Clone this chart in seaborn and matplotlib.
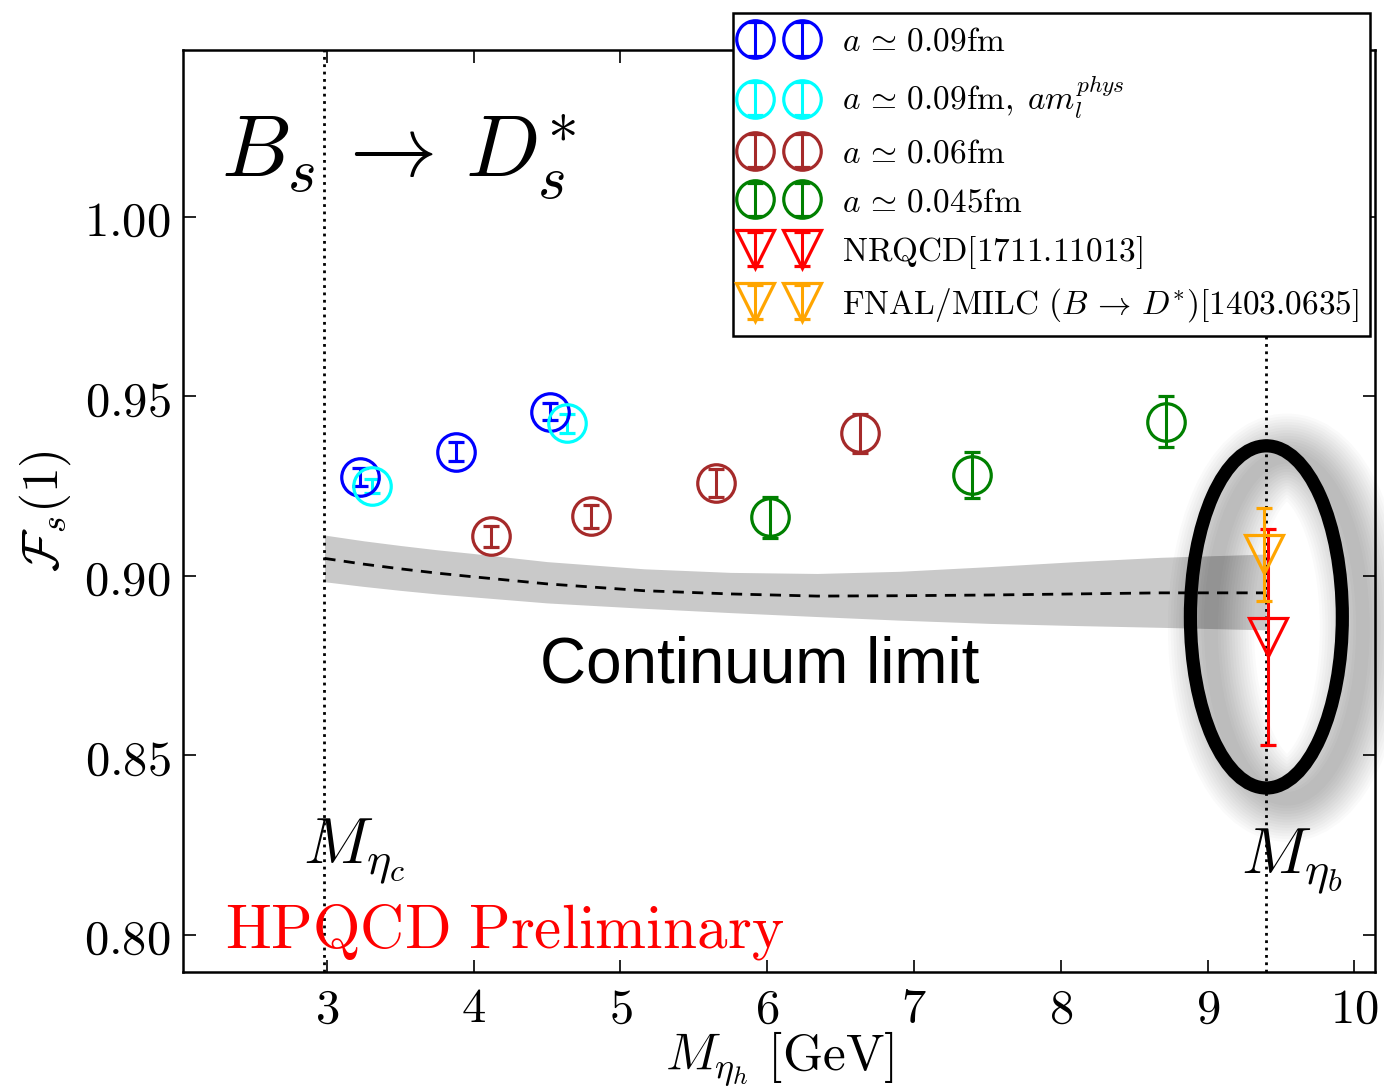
import numpy as np
import pandas as pd
import seaborn as sns
import matplotlib.pyplot as plt
from matplotlib.patches import Ellipse
from matplotlib.ticker import FormatStrFormatter, MultipleLocator

# lattice points: M_eta_h [GeV], F_s(1), error
blue_x = [3.225, 3.883, 4.518]
blue_y = [0.9275, 0.9346, 0.9458]
blue_err = [0.0025, 0.0027, 0.0024]

cyan_x = [3.309, 4.639]
cyan_y = [0.9251, 0.9425]
cyan_err = [0.0019, 0.0027]

brown_x = [4.117, 4.802, 5.654, 6.629]
brown_y = [0.9110, 0.9167, 0.9260, 0.9397]
brown_err = [0.0029, 0.0032, 0.0039, 0.0054]

green_x = [6.016, 7.394, 8.717]
green_y = [0.9163, 0.9281, 0.9430]
green_err = [0.0056, 0.0064, 0.0072]

nrqcd_x = [9.41]
nrqcd_y = [0.883]
nrqcd_err = [0.030]

fnal_x = [9.385]
fnal_y = [0.906]
fnal_err = [0.013]

# continuum limit band
band_x = [2.984, 3.25, 3.5, 3.75, 3.99, 4.5, 5.16, 5.75, 6.34, 6.9, 7.51, 8.1, 8.68, 9.399]
band_mid = [0.9049, 0.9033, 0.9020, 0.9008, 0.8998, 0.8978, 0.8959, 0.8950, 0.8944,
            0.8945, 0.8947, 0.8950, 0.8953, 0.8953]
band_hi = [0.9114, 0.9098, 0.9085, 0.9073, 0.9063, 0.9040, 0.9020, 0.9010, 0.9007,
           0.9013, 0.9026, 0.9040, 0.9052, 0.9061]
band_lo = [0.8984, 0.8971, 0.8960, 0.8950, 0.8942, 0.8925, 0.8910, 0.8898, 0.8887,
           0.8877, 0.8868, 0.8862, 0.8857, 0.8850]

m_etac = 2.984
m_etab = 9.399

sns.set_style("ticks")
plt.rcParams["mathtext.fontset"] = "cm"
plt.rcParams["xtick.direction"] = "in"
plt.rcParams["ytick.direction"] = "in"
for k in ["text.color", "axes.labelcolor", "xtick.color", "ytick.color"]:
    plt.rcParams[k] = "black"

fig = plt.figure(figsize=(13.84, 10.87), dpi=100)
ax = fig.add_axes([0.1322, 0.1058, 0.8613, 0.8482])

band = pd.DataFrame({"x": band_x, "mid": band_mid})
ax.fill_between(band_x, band_lo, band_hi, color="0.79", lw=0, zorder=1)
sns.lineplot(data=band, x="x", y="mid", ax=ax, color="black", lw=2,
             dashes=(4, 3), zorder=2)

ax.axvline(m_etac, color="black", ls=":", lw=2, zorder=2)
ax.axvline(m_etab, color="black", ls=":", lw=2, zorder=2)

ms = 27
common = dict(ls="none", mfc="none", ms=ms, mew=2.3, elinewidth=2.2,
              capsize=6, capthick=2.2, zorder=4)
ax.errorbar(blue_x, blue_y, yerr=blue_err, marker="o", color="blue",
            label=r"$a\,\simeq\,0.09\mathrm{fm}$", **common)
ax.errorbar(cyan_x, cyan_y, yerr=cyan_err, marker="o", color="cyan",
            label=r"$a\,\simeq\,0.09\mathrm{fm},\;am_l^{phys}$", **common)
ax.errorbar(brown_x, brown_y, yerr=brown_err, marker="o", color="brown",
            label=r"$a\,\simeq\,0.06\mathrm{fm}$", **common)
ax.errorbar(green_x, green_y, yerr=green_err, marker="o", color="green",
            label=r"$a\,\simeq\,0.045\mathrm{fm}$", **common)
ax.errorbar(nrqcd_x, nrqcd_y, yerr=nrqcd_err, marker="v", color="red",
            label=r"$\mathrm{NRQCD[1711.11013]}$", **common)
ax.errorbar(fnal_x, fnal_y, yerr=fnal_err, marker="v", color="orange",
            label=r"$\mathrm{FNAL/MILC}\ (B\,\rightarrow\,D^{*})\mathrm{[1403.0635]}$",
            **common)

# blurred shadow + ellipse
ecx, ecy, ew, eh = 9.40, 0.8886, 1.035, 0.0953
for lw in np.arange(10, 64, 4):
    ax.add_patch(Ellipse((ecx + 0.14, ecy - 0.003), ew, eh, fill=False,
                         edgecolor="black", lw=lw, alpha=0.02, zorder=3,
                         clip_on=False))
ax.add_patch(Ellipse((ecx, ecy), ew, eh, fill=False, edgecolor="black",
                     lw=9.5, zorder=5))

ax.text(2.28, 1.011, r"$B_s\,\rightarrow\,D_s^{*}$", fontsize=63, ha="left",
        va="baseline")
ax.text(4.45, 0.8702, "Continuum limit", fontsize=46, family="Liberation Sans",
        ha="left", va="baseline")
ax.text(2.837, 0.8203, r"$M_{\eta_c}$", fontsize=47, ha="left", va="baseline")
ax.text(9.224, 0.8175, r"$M_{\eta_b}$", fontsize=47, ha="left", va="baseline")
ax.text(2.305, 0.7964, r"$\mathrm{HPQCD\ Preliminary}$", fontsize=44,
        color="red", ha="left", va="baseline")

ax.set_xlim(2.02, 10.14)
ax.set_ylim(0.7897, 1.0465)
ax.xaxis.set_major_locator(MultipleLocator(1))
ax.yaxis.set_major_locator(MultipleLocator(0.05))
ax.xaxis.set_major_formatter(FormatStrFormatter(r"$%d$"))
ax.yaxis.set_major_formatter(FormatStrFormatter(r"$%.2f$"))
ax.tick_params(axis="both", which="major", labelsize=35, length=9, width=1.2,
               top=True, right=True, pad=9)
for s in ax.spines.values():
    s.set_linewidth(1.8)
    s.set_color("black")

ax.set_xlabel(r"$M_{\eta_h}\ [\mathrm{GeV}]$", fontsize=37, labelpad=-2)
ax.set_ylabel(r"$\mathcal{F}_s(1)$", fontsize=37, labelpad=8)

leg = ax.legend(loc="upper right", bbox_to_anchor=(0.990, 0.988),
                bbox_transform=fig.transFigure, borderaxespad=0, numpoints=2,
                fontsize=24, frameon=True, fancybox=False, framealpha=1,
                edgecolor="black", borderpad=0.35, handlelength=2.0,
                handletextpad=0.9, labelspacing=0.47)
leg.get_frame().set_linewidth(1.8)
leg.set_zorder(10)

fig.savefig("out.png", dpi=100)
